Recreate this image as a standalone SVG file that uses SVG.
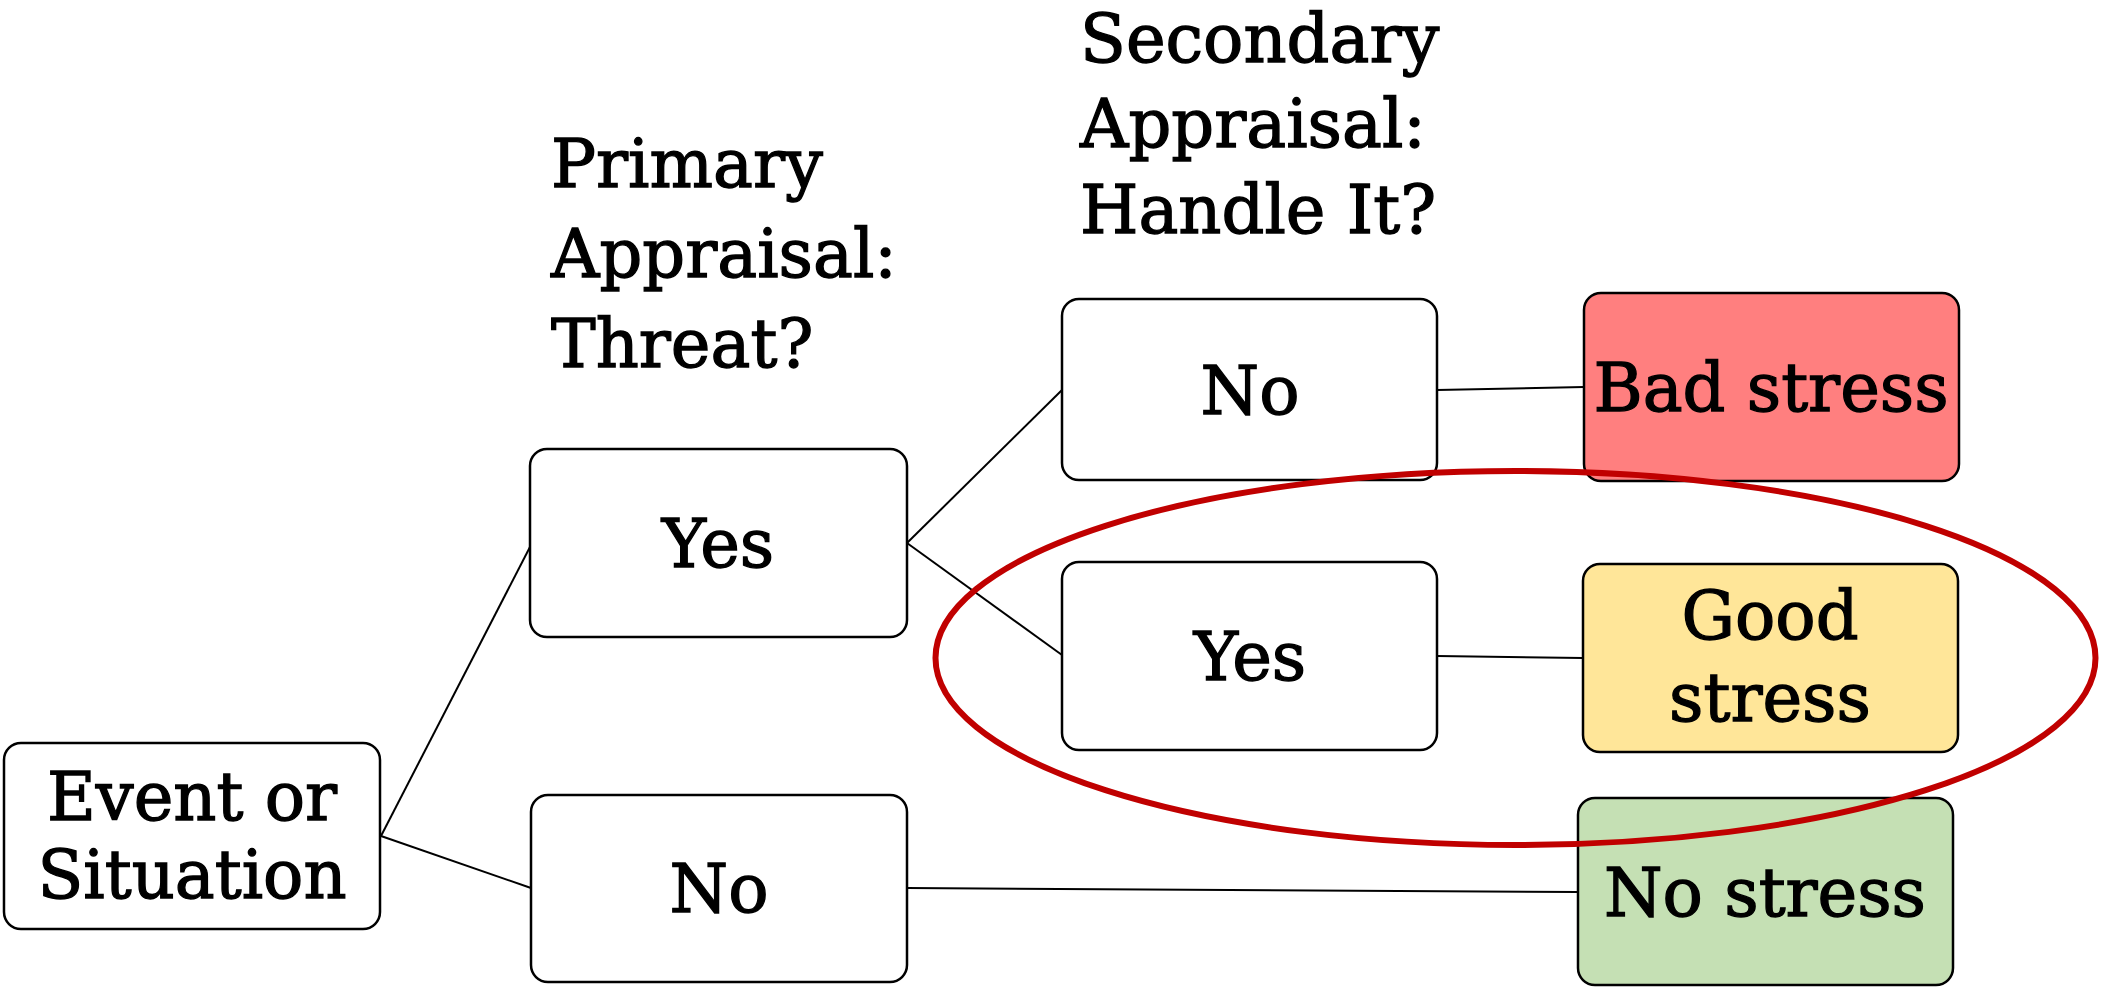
<svg xmlns="http://www.w3.org/2000/svg" width="2103" height="987" viewBox="0 0 2103 987">
<style>
.box{stroke:#000;stroke-width:2.5;fill:#fff}
.t{font-family:"DejaVu Serif","Liberation Serif",serif;font-size:67px;fill:#000;stroke:#000;stroke-width:1.3}
.c{text-anchor:middle}
.ln{stroke:#000;stroke-width:2;fill:none}
</style>
<rect width="2103" height="987" fill="#fff"/>
<g id="headers">
<text class="t" x="551" y="187">Primary</text>
<text class="t" x="551" y="277">Appraisal:</text>
<text class="t" x="551" y="367">Threat?</text>
<text class="t" x="1080" y="62">Secondary</text>
<text class="t" x="1080" y="147">Appraisal:</text>
<text class="t" x="1080" y="233">Handle It?</text>
</g>
<g id="connectors">
<line class="ln" x1="381" y1="836" x2="531" y2="545"/>
<line class="ln" x1="381" y1="836" x2="531" y2="888"/>
<line class="ln" x1="907" y1="543" x2="1062" y2="390"/>
<line class="ln" x1="907" y1="543" x2="1062" y2="655"/>
<line class="ln" x1="1437" y1="390" x2="1584" y2="387"/>
<line class="ln" x1="1437" y1="656" x2="1583" y2="658"/>
<line class="ln" x1="907" y1="888" x2="1578" y2="892"/>
</g>
<g id="event">
<rect class="box" x="4" y="743" width="376" height="186" rx="17"/>
<text class="t c" x="192" y="820">Event or</text>
<text class="t c" x="192" y="898">Situation</text>
</g>
<g id="primary-yes">
<rect class="box" x="530" y="449" width="377" height="188" rx="17"/>
<text class="t c" x="718" y="567">Yes</text>
</g>
<g id="primary-no">
<rect class="box" x="531" y="795" width="376" height="187" rx="17"/>
<text class="t c" x="719" y="912">No</text>
</g>
<g id="secondary-no">
<rect class="box" x="1062" y="299" width="375" height="181" rx="17"/>
<text class="t c" x="1250" y="414">No</text>
</g>
<g id="secondary-yes">
<rect class="box" x="1062" y="562" width="375" height="188" rx="17"/>
<text class="t c" x="1250" y="680">Yes</text>
</g>
<g id="bad-stress">
<rect class="box" x="1584" y="293" width="375" height="188" rx="17" style="fill:#FF7F7F"/>
<text class="t c" x="1771" y="411">Bad stress</text>
</g>
<g id="good-stress">
<rect class="box" x="1583" y="564" width="375" height="188" rx="17" style="fill:#FFE699"/>
<text class="t c" x="1770" y="639">Good</text>
<text class="t c" x="1770" y="721">stress</text>
</g>
<g id="no-stress">
<rect class="box" x="1578" y="798" width="375" height="187" rx="17" style="fill:#C5E0B4"/>
<text class="t c" x="1765" y="916">No stress</text>
</g>
<g id="highlight">
<ellipse cx="1515.5" cy="658" rx="580" ry="187" fill="none" stroke="#C00000" stroke-width="6"/>
</g>
</svg>
